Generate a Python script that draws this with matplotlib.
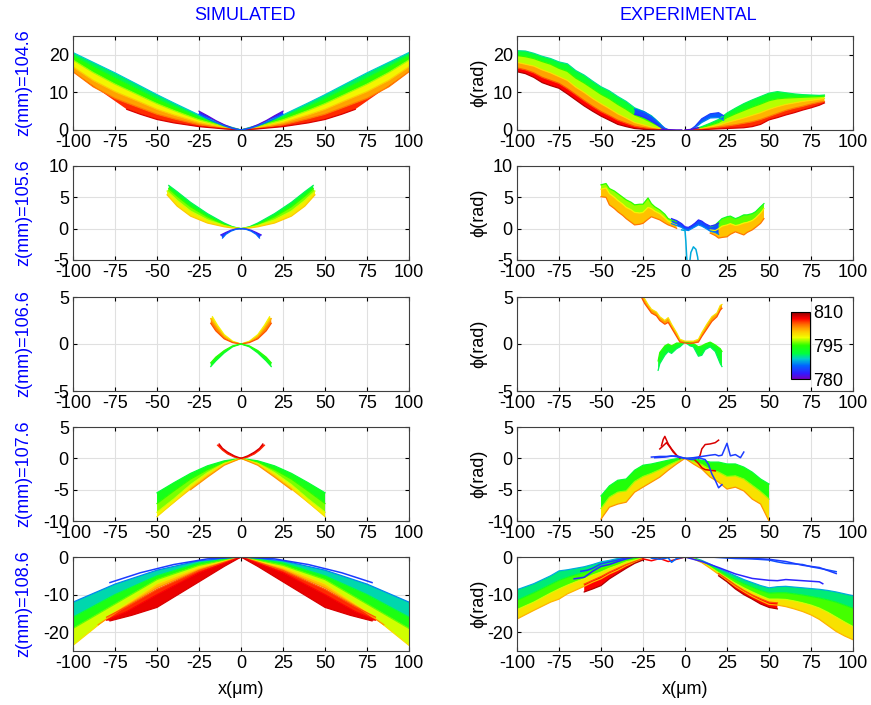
import numpy as np
import matplotlib.pyplot as plt
from matplotlib.colors import LinearSegmentedColormap, Normalize
from matplotlib.cm import ScalarMappable

plt.rcParams['font.family'] = ['Liberation Sans', 'DejaVu Sans']
plt.rcParams['font.size'] = 13
plt.rcParams['axes.unicode_minus'] = False

# ---- data: (wavelength nm, x um, phi rad) ----
z_labels = ['z(mm)=104.6', 'z(mm)=105.6', 'z(mm)=106.6', 'z(mm)=107.6', 'z(mm)=108.6']
ylims = [(0, 25), (-5, 10), (-5, 5), (-10, 5), (-25, 0)]
yticks = [[0, 10, 20], [-5, 0, 5, 10], [-5, 0, 5], [-10, -5, 0, 5], [-20, -10, 0]]
xticks = [-100, -75, -50, -25, 0, 25, 50, 75, 100]
cbar_ticks = [780, 795, 810]

# simulated panels: right half only, left half is the mirror image
sim1_main = [(789, [0, 10, 25, 40, 50, 62, 75, 88, 100], [0, 1.3, 4.0, 7.2, 9.4, 12.2, 15.2, 18.0, 20.6]),
             (793, [0, 10, 25, 40, 50, 62, 75, 88, 100], [0, 1.1, 3.4, 6.3, 8.3, 11.0, 13.9, 16.9, 19.8]),
             (797, [0, 10, 25, 40, 50, 62, 75, 88, 100], [0, 0.9, 2.7, 5.2, 7.0, 9.5, 12.2, 15.3, 18.6]),
             (801, [0, 10, 25, 40, 50, 62, 75, 88, 100], [0, 0.6, 2.0, 4.0, 5.5, 7.8, 10.2, 13.2, 16.8]),
             (804, [0, 10, 25, 40, 50, 62, 75, 88, 100], [0, 0.4, 1.4, 3.0, 4.2, 6.2, 8.4, 11.5, 15.5]),
             (808, [0, 10, 25, 40, 50, 60, 68], [0, 0.3, 0.9, 1.9, 2.8, 4.2, 5.5])]
sim1_blue = [(781, [0, 5, 10, 15, 20, 25], [0, 0.5, 1.4, 2.5, 3.8, 5.0]),
             (786, [0, 5, 10, 15, 20, 25], [0, 0.4, 1.1, 2.0, 3.0, 4.2])]

sim2_main = [(791, [0, 5, 10, 20, 30, 38, 43], [0, 0.3, 0.9, 2.4, 4.2, 5.9, 6.9]),
             (795, [0, 5, 10, 20, 30, 38, 43], [0, 0.25, 0.7, 1.9, 3.5, 5.2, 6.4]),
             (798, [0, 5, 10, 20, 30, 38, 44], [0, 0.2, 0.5, 1.4, 2.8, 4.5, 6.0]),
             (801, [0, 5, 10, 20, 30, 38, 44], [0, 0.1, 0.3, 0.9, 2.0, 3.6, 5.4])]
sim2_blue = [(782, [0, 3, 6, 9, 12], [0, -0.05, -0.25, -0.6, -1.0]),
             (786, [0, 3, 6, 9, 11], [0, -0.1, -0.4, -0.9, -1.5])]

sim3_up = [(799, [0, 5, 10, 14, 17], [0, 0.3, 1.0, 2.0, 2.9]),
           (802, [0, 5, 10, 14, 18], [0, 0.2, 0.8, 1.7, 2.7]),
           (805, [0, 5, 10, 15, 18], [0, 0.15, 0.55, 1.4, 2.2])]
sim3_down = [(792, [0, 5, 10, 15, 18], [0, -0.3, -0.95, -1.8, -2.4]),
             (795, [0, 5, 10, 15, 18], [0, -0.2, -0.7, -1.4, -2.0])]

sim4_red = [(806, [0, 4, 8, 11, 14], [0, 0.2, 0.7, 1.3, 2.1]),
            (808, [0, 4, 8, 11, 13], [0, 0.4, 1.0, 1.6, 2.3])]
sim4_main = [(792, [0, 10, 20, 30, 40, 50], [0, -0.4, -1.2, -2.4, -3.9, -5.5]),
             (795, [0, 10, 20, 30, 40, 50], [0, -0.6, -1.8, -3.3, -5.2, -7.2]),
             (798, [0, 10, 20, 30, 40, 50], [0, -0.8, -2.3, -4.2, -6.5, -8.6]),
             (800, [0, 10, 20, 30, 40, 50], [0, -0.9, -2.6, -4.6, -7.0, -9.3]),
             (803, [0, 10, 20, 30], [0, -1.1, -3.0, -5.0])]

sim5_main = [(787, [0, 25, 50, 75, 100], [0, -1.0, -3.5, -7.2, -12.0]),
             (792, [0, 25, 50, 75, 100], [0, -1.6, -5.0, -10.0, -16.0]),
             (796, [0, 25, 50, 75, 100], [0, -2.2, -6.0, -12.5, -19.0]),
             (800, [0, 25, 50, 75, 100], [0, -2.8, -7.2, -14.5, -23.5]),
             (803, [0, 25, 50, 70, 85], [0, -3.4, -8.2, -13.5, -18.0])]
sim5_red = [(805, [0, 25, 50, 68, 80], [0, -3.6, -8.6, -13.2, -16.0]),
            (807, [0, 25, 50, 68, 80], [0, -4.2, -10.0, -14.5, -16.8]),
            (808, [0, 10, 25, 50, 65, 78], [0, -2.5, -6.6, -13.4, -15.5, -17.0])]
sim5_line = [(784, [0, 20, 40, 60, 78], [0, -0.5, -2.0, -4.2, -6.8])]

# experimental panels
e1_xl = [-100, -95, -90, -85, -80, -75, -70, -65, -60, -55, -50, -45, -40, -35, -30, -25, -20, -15, -12]
e1_left = [(790, e1_xl, [21.1, 21.0, 20.4, 19.6, 19.0, 18.1, 17.6, 15.8, 14.6, 13.0, 11.5, 10.4, 8.9, 7.6, 5.9, 5.0, 3.8, 1.8, 0.2]),
           (795, e1_xl, [19.8, 19.5, 19.0, 18.2, 17.5, 16.4, 15.6, 13.8, 12.5, 11.0, 9.5, 8.3, 6.8, 5.5, 4.0, 3.1, 2.0, 0.9, 0.1]),
           (800, e1_xl, [18.0, 17.5, 17.0, 16.0, 15.2, 14.2, 13.2, 11.4, 10.0, 8.4, 7.0, 5.7, 4.3, 3.2, 2.0, 1.4, 0.8, 0.3, 0]),
           (805, e1_xl, [16.5, 16.0, 15.2, 14.0, 13.2, 12.4, 11.0, 9.4, 7.8, 6.3, 4.9, 3.8, 2.6, 1.8, 1.0, 0.6, 0.3, 0.1, 0]),
           (809, e1_xl, [15.5, 15.0, 14.0, 12.6, 11.8, 11.1, 9.6, 8.0, 6.4, 5.0, 3.7, 2.6, 1.5, 0.9, 0.4, 0.2, 0.05, 0, 0])]
e1_xr = [3, 6, 10, 15, 20, 25, 30, 35, 40, 45, 50, 55, 60, 65, 70, 75, 80, 83]
e1_right = [(791, e1_xr, [0, 0.3, 0.9, 1.8, 2.8, 4.5, 5.8, 7.0, 8.0, 8.9, 9.8, 10.2, 9.9, 9.6, 9.4, 9.3, 9.2, 9.3]),
            (795, e1_xr, [0, 0.2, 0.6, 1.3, 2.0, 3.3, 4.3, 5.2, 6.1, 6.9, 7.8, 8.3, 8.5, 8.6, 8.7, 8.8, 8.9, 9.0]),
            (800, e1_xr, [0, 0.1, 0.4, 0.8, 1.3, 2.0, 2.6, 3.2, 3.9, 4.6, 5.5, 6.2, 6.8, 7.2, 7.6, 7.9, 8.2, 8.4]),
            (804, e1_xr, [0, 0.05, 0.2, 0.5, 0.8, 1.1, 1.4, 1.8, 2.2, 2.8, 3.6, 4.4, 5.2, 5.8, 6.3, 6.9, 7.4, 7.6]),
            (808, e1_xr, [0, 0, 0.05, 0.2, 0.3, 0.4, 0.5, 0.6, 0.9, 1.5, 2.7, 3.3, 4.0, 4.6, 5.3, 5.9, 6.6, 7.2])]
e1_blue_l = [(783, [-30, -27, -24, -21, -18, -15, -12, -10], [4.2, 3.8, 3.3, 2.6, 1.8, 0.9, 0.2, 0]),
             (786, [-30, -27, -24, -21, -18, -15, -12, -10], [5.6, 5.2, 4.8, 3.9, 2.9, 1.6, 0.5, 0.1])]
e1_blue_r = [(784, [3, 6, 10, 15, 20, 23], [0, 1.0, 3.0, 4.3, 4.6, 3.8]),
             (787, [3, 6, 10, 15, 20, 23], [0, 0.6, 2.0, 3.2, 3.3, 2.6])]
e1_lines = [(781, [-14, -11, -8, -5, -2], [0.2, 0.1, 0.05, 0, 0]),
            (781, [0, 3, 6, 8], [0, 0.1, 0.4, 0.6])]

e2_xl = [-50, -47, -45, -42, -40, -37, -35, -32, -30, -27, -25, -22, -20, -18, -15, -12, -10, -7, -5]
e2_left = [(795, e2_xl, [7.0, 7.2, 6.4, 6.0, 5.6, 5.0, 4.6, 4.2, 3.8, 3.9, 3.9, 4.9, 4.0, 3.5, 3.0, 2.3, 1.6, 1.3, 1.1]),
           (799, e2_xl, [6.3, 6.5, 5.6, 5.0, 4.5, 3.9, 3.4, 3.0, 2.6, 2.5, 2.6, 3.4, 3.2, 2.8, 2.4, 1.7, 1.2, 0.8, 0.6]),
           (804, e2_xl, [5.1, 5.0, 3.8, 3.2, 2.7, 2.1, 1.6, 1.0, 0.6, 0.7, 0.85, 1.5, 1.9, 1.7, 1.4, 0.9, 0.6, 0.3, 0.05])]
e2_xr = [15, 18, 20, 22, 25, 27, 30, 32, 35, 37, 40, 42, 45, 47]
e2_right = [(793, e2_xr, [0.3, 0.6, 1.1, 1.6, 1.9, 2.0, 1.6, 1.8, 2.2, 2.2, 2.4, 2.7, 3.5, 4.0]),
            (799, e2_xr, [-0.2, -0.3, 0, 0.4, 0.6, 0.8, 0.5, 0.6, 0.9, 1.0, 1.3, 1.7, 2.5, 3.2]),
            (804, e2_xr, [-0.7, -1.1, -1.5, -1.4, -1.3, -0.9, -0.5, -0.7, -1.0, -0.6, -0.2, 0.2, 0.85, 1.6])]
e2_xm = [-8, -5, -2, 0, 2, 4, 6, 8, 10, 12, 15, 18, 20]
e2_mid = [(783, e2_xm, [1.6, 1.3, 0.8, 0.3, 0.2, 0.5, 0.9, 1.4, 1.2, 0.8, 0.4, 0.6, 0.9]),
          (787, e2_xm, [0.8, 0.5, 0.2, -0.2, -0.3, 0, 0.3, 0.6, 0.4, 0.1, -0.4, -0.6, -0.9])]
e2_lines = [(788, [-2, 0, 0.5, 1, 1.5, 2.5, 3.5, 5, 6.5, 7.5, 8, 8.5],
             [-0.2, -0.3, -2, -4.5, -6, -6, -3.8, -2.9, -3.3, -4.5, -5.5, -6])]

e3_xu = [-26, -24, -22, -20, -17, -15, -12, -10, -8, -5, -3, 0, 3, 5, 8, 10, 13, 16, 19, 21, 22]
e3_up = [(800, e3_xu, [5.5, 4.8, 4.2, 3.7, 3.4, 2.9, 2.5, 2.8, 2.1, 1.2, 0.5, 0.3, 0.3, 0.3, 0.5, 1.2, 2.1, 2.9, 3.3, 4.1, 4.2]),
         (805, e3_xu, [5.0, 4.3, 3.8, 3.3, 3.0, 2.5, 2.1, 2.3, 1.7, 0.8, 0.2, 0.1, 0.05, 0.1, 0.2, 0.8, 1.6, 2.4, 2.9, 3.6, 3.8])]
e3_xd = [-16, -15, -12, -10, -8, -5, -3, 0, 3, 5, 8, 10, 12, 15, 18, 21, 22]
e3_down = [(791, e3_xd, [-2.8, -2.1, -1.2, -0.8, -1.0, -0.5, -0.3, 0.2, -0.2, -0.3, -1.3, -1.2, -0.6, -0.3, -0.8, -2.1, -2.4]),
           (795, e3_xd, [-1.8, -0.9, -0.2, 0, -0.2, 0.1, 0.1, 0.2, 0.1, 0.05, -0.3, -0.2, 0, 0.2, -0.1, -0.5, -0.8])]

e4_xl = [-50, -45, -40, -35, -30, -25, -20, -15, -10, -5, 0]
e4_left = [(792, e4_xl, [-6.0, -4.4, -3.5, -3.3, -1.9, -1.1, -0.9, -0.6, -0.3, -0.05, 0]),
           (797, e4_xl, [-8.0, -6.2, -5.4, -5.2, -3.7, -2.9, -2.4, -1.8, -1.1, -0.5, 0]),
           (803, e4_xl, [-9.7, -7.8, -7.3, -7.0, -5.4, -4.6, -3.8, -3.0, -1.9, -0.9, 0])]
e4_xr = [0, 5, 10, 15, 20, 25, 30, 35, 40, 45, 50]
e4_right = [(792, e4_xr, [0, -0.05, -0.3, -0.6, -0.6, -0.9, -0.9, -1.4, -2.2, -3.3, -4.1]),
            (797, e4_xr, [0, -0.5, -1.0, -1.8, -2.2, -2.9, -2.8, -3.3, -4.3, -5.3, -6.5]),
            (803, e4_xr, [0, -0.9, -1.7, -3.0, -3.8, -4.9, -4.6, -5.2, -6.5, -7.3, -10.0])]
e4_lines = [(808, [-3, -5, -8, -10, -12, -13, -14], [0, 0.5, 1.5, 2.3, 3.5, 3.0, 2.0]),
            (808, [-4, -7, -9, -11, -13, -15], [0.2, 1.0, 1.8, 2.5, 2.0, 1.5]),
            (808, [8, 9, 10, 12, 15, 18, 20], [0, 0.5, 1.5, 2.2, 2.3, 2.5, 2.9]),
            (808, [6, 8, 10, 12, 15, 18], [-0.3, -0.8, -1.5, -1.8, -1.9, -2.0]),
            (784, [-20, -15, -10, -5, 0, 5, 10, 15, 18, 20, 22, 25, 27, 30, 33, 35],
             [0.2, 0.3, 0.3, 0.4, 0, 0.1, 0.3, 0.5, 0.6, 0.4, 0.5, 2.4, 0.4, 0.6, 0.1, 1.0]),
            (784, [-18, -12, -8, -4, 0, 4, 8, 12, 14, 16, 18, 20, 22],
             [0.1, 0.2, 0.4, 0.2, 0, -0.2, 0.1, -0.2, -1.0, -2.5, -3.5, -4.7, -4.2])]

e5_xl = [-100, -90, -80, -75, -70, -65, -60, -55, -50, -45, -40, -35, -30, -25]
e5_left = [(788, e5_xl, [-8.7, -7.1, -5.0, -3.7, -3.4, -3.0, -2.6, -2.0, -1.3, -0.9, -0.4, -0.1, 0, 0]),
           (793, e5_xl, [-11.5, -9.5, -7.3, -6.2, -5.4, -4.7, -4.1, -3.3, -2.6, -1.8, -1.2, -0.6, -0.3, 0]),
           (798, e5_xl, [-14.0, -12.0, -9.6, -8.5, -7.5, -6.6, -5.8, -4.8, -4.0, -3.0, -2.2, -1.3, -0.8, -0.2]),
           (802, e5_xl, [-16.5, -14.2, -12.0, -11.2, -9.8, -8.8, -7.8, -6.7, -5.8, -4.5, -3.5, -2.3, -1.4, -0.5])]
e5_xlr = [-60, -55, -50, -45, -40, -35, -30, -25]
e5_red_l = [(805, e5_xlr, [-7.2, -6.2, -5.2, -4.0, -3.0, -2.0, -1.2, -0.4]),
            (809, e5_xlr, [-9.3, -8.5, -7.6, -5.8, -4.4, -3.0, -1.7, -0.8])]
e5_xr = [0, 5, 10, 15, 20, 25, 30, 35, 40, 45, 50, 55, 60, 65, 70, 75, 80, 85, 90, 95, 100]
e5_right = [(788, e5_xr, [0, -0.2, -0.9, -1.9, -3.0, -4.0, -5.0, -6.0, -6.8, -7.6, -8.2, -7.9, -7.8, -8.0, -8.2, -8.4, -8.6, -8.9, -9.3, -9.8, -10.3]),
            (793, e5_xr, [0, -0.3, -1.1, -2.3, -3.6, -4.8, -6.0, -7.1, -8.0, -8.9, -9.6, -9.5, -9.5, -9.8, -10.1, -10.5, -10.9, -11.4, -12.0, -12.8, -13.6]),
            (798, e5_xr, [0, -0.4, -1.3, -2.7, -4.2, -5.6, -7.0, -8.2, -9.3, -10.3, -11.2, -11.2, -11.3, -11.7, -12.2, -12.8, -13.6, -14.7, -16.0, -17.3, -18.5]),
            (802, e5_xr, [0, -0.5, -1.5, -3.0, -4.6, -6.2, -7.8, -9.2, -10.5, -11.6, -12.6, -12.8, -13.2, -13.8, -14.5, -15.4, -16.6, -18.2, -19.8, -21.0, -22.0])]
e5_xrr = [20, 25, 30, 35, 40, 45, 50, 55]
e5_red_r = [(805, e5_xrr, [-4.4, -5.9, -7.5, -8.9, -10.1, -11.1, -12.0, -12.2]),
            (809, e5_xrr, [-5.0, -6.6, -8.5, -10.0, -11.2, -12.5, -13.4, -13.8])]
e5_lines = [(783, [-66, -60, -55, -50, -45, -40, -35, -30], [-5.8, -5.4, -3.8, -2.5, -2.0, -1.2, -0.5, 0]),
            (784, [-62, -58, -55, -50, -45, -40, -35], [-3.8, -3.5, -3.0, -1.8, -1.3, -0.8, -0.2]),
            (783, [0, 10, 20, 30, 40, 50, 55, 60, 70, 80, 82], [0, -1.2, -2.8, -4.5, -5.7, -6.2, -6.3, -6.0, -6.3, -6.6, -7.1]),
            (785, [15, 30, 40, 50, 55, 60, 70, 75, 80, 90], [0, -0.4, -0.5, -0.8, -1.3, -1.7, -2.0, -2.6, -3.0, -3.9]),
            (784, [20, 30, 40, 50, 60, 70, 80, 90], [0, -0.2, -0.4, -0.6, -1.2, -2.2, -2.8, -4.4]),
            (807, [-25, -20, -15, -10, -5, 0], [-0.5, -1.0, -0.4, -1.2, -0.6, 0]),
            (786, [-20, -15, -10, -8, -5, 0], [-0.3, -0.6, -0.2, -1.4, -0.4, 0])]

sim_groups = [[sim1_main, sim1_blue], [sim2_main, sim2_blue], [sim3_up, sim3_down],
              [sim4_main, sim4_red], [sim5_main, sim5_red]]
sim_lines = [[], [], [], [], sim5_line]
exp_groups = [[e1_left, e1_right, e1_blue_l, e1_blue_r], [e2_left, e2_right, e2_mid],
              [e3_down, e3_up], [e4_left, e4_right], [e5_left, e5_right, e5_red_l, e5_red_r]]
exp_lines = [e1_lines, e2_lines, [], e4_lines, e5_lines]

# ---- colours: spectral map 780-810 nm ----
spec = LinearSegmentedColormap.from_list('spec', [
    (0.00, (0.45, 0.0, 0.75)), (0.08, (0.2, 0.1, 1.0)), (0.20, (0.0, 0.4, 1.0)),
    (0.30, (0.0, 0.8, 0.8)), (0.38, (0.0, 1.0, 0.25)), (0.50, (0.15, 1.0, 0.0)),
    (0.62, (0.95, 1.0, 0.0)), (0.72, (1.0, 0.75, 0.0)), (0.82, (1.0, 0.4, 0.0)),
    (0.90, (1.0, 0.0, 0.0)), (1.00, (0.55, 0.0, 0.0))])
norm = Normalize(780, 810)


def draw_group(ax, group, mirror=False):
    group = sorted(group, key=lambda c: c[0])
    sides = [1, -1] if mirror else [1]
    for s in sides:
        for (w1, x1, p1), (w2, x2, p2) in zip(group[:-1], group[1:]):
            xs = np.concatenate([np.array(x1) * s, np.array(x2)[::-1] * s])
            ys = np.concatenate([np.array(p1), np.array(p2)[::-1]])
            ax.fill(xs, ys, color=spec(norm((w1 + w2) / 2)), lw=0)
        for w, x, p in group:
            ax.plot(np.array(x) * s, p, color=spec(norm(w)), lw=0.9)


def draw_lines(ax, lines, mirror=False):
    for s in ([1, -1] if mirror else [1]):
        for w, x, p in lines:
            ax.plot(np.array(x) * s, p, color=spec(norm(w)), lw=1.1)


fig = plt.figure(figsize=(8.71, 7.05), dpi=100)
W, H = 871, 705
tops = [36, 166, 297, 427, 557]
for r in range(5):
    for c, left in enumerate([73, 517]):
        ax = fig.add_axes([left / W, 1 - (tops[r] + 94) / H, 336 / W, 94 / H])
        if c == 0:
            for g in sim_groups[r]:
                draw_group(ax, g, mirror=True)
            draw_lines(ax, sim_lines[r], mirror=True)
            ax.set_ylabel(z_labels[r], color='blue')
            ax.yaxis.set_label_coords(-0.12, 0.5)
        else:
            for g in exp_groups[r]:
                draw_group(ax, g)
            draw_lines(ax, exp_lines[r])
            ax.set_ylabel('ϕ(rad)')
            ax.yaxis.set_label_coords(-0.089, 0.5)
        ax.set_xlim(-100, 100)
        ax.set_ylim(*ylims[r])
        ax.set_xticks(xticks)
        ax.set_yticks(yticks[r])
        ax.grid(True, color='0.88', lw=0.8)
        ax.set_axisbelow(True)
        ax.tick_params(direction='in', top=True, right=True, length=3, labelsize=13, pad=3)
        for sp in ax.spines.values():
            sp.set_color('0.25')
            sp.set_linewidth(0.8)
        if r == 4:
            ax.set_xlabel('x(μm)', labelpad=6)
        if r == 2 and c == 1:
            cax = fig.add_axes([791 / W, 1 - 379 / H, 19 / W, 67 / H])
            cb = fig.colorbar(ScalarMappable(norm=norm, cmap=spec), cax=cax, ticks=cbar_ticks)
            cb.ax.tick_params(length=0, labelsize=13, pad=2)
            cb.outline.set_linewidth(0.8)

fig.text(245 / W, 1 - 15 / H, 'SIMULATED', color='blue', ha='center', va='center', fontsize=13)
fig.text(688 / W, 1 - 15 / H, 'EXPERIMENTAL', color='blue', ha='center', va='center', fontsize=13)

fig.savefig('out.png', dpi=100)
